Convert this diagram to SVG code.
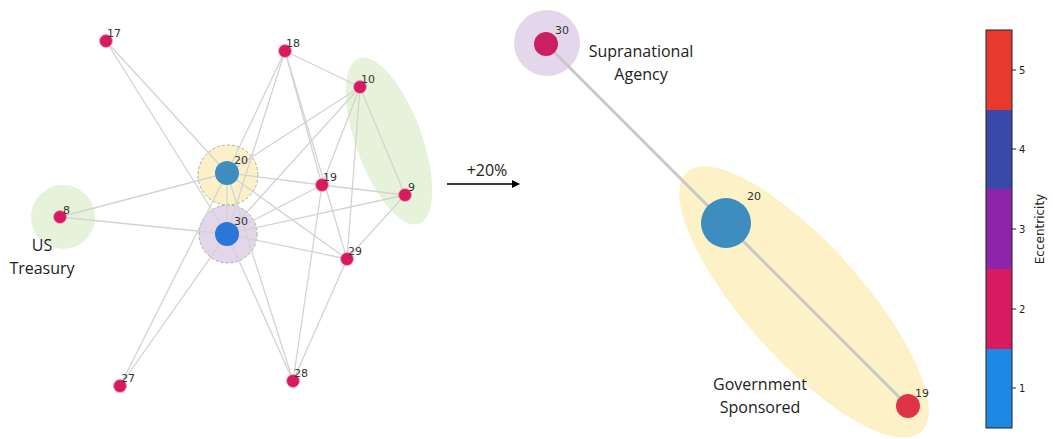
<svg xmlns="http://www.w3.org/2000/svg" width="1053" height="439" viewBox="0 0 1053 439">
<style>
.e{stroke:#d3d3d3;stroke-width:1.3;fill:none}
.n{fill:#d81b60;stroke:#f2a0bd;stroke-width:0.8}
.lb{font-family:"DejaVu Sans",sans-serif;font-size:11px;fill:#333}
.t{font-family:"Open Sans","Liberation Sans",sans-serif;font-size:16px;fill:#222;text-anchor:middle}
.tk{font-family:"DejaVu Sans",sans-serif;font-size:10px;fill:#222}
</style>
<defs>
<marker id="ah" markerWidth="8" markerHeight="8" refX="7" refY="4" orient="auto" markerUnits="userSpaceOnUse">
<path d="M0,0 L8,4 L0,8 Z" fill="#000"/>
</marker>
</defs>
<rect width="1053" height="439" fill="#fff"/>
<g id="groups">
<ellipse cx="389" cy="141" rx="33" ry="88" transform="rotate(-20 389 141)" fill="#e6f3da"/>
<circle cx="63" cy="217" r="32" fill="#e6f3da"/>
<circle cx="228" cy="175" r="30" fill="#fcf0c8" stroke="#aaa" stroke-dasharray="3,2"/>
<circle cx="228" cy="234" r="29" fill="#e3d6ea" stroke="#aaa" stroke-dasharray="3,2"/>
<circle cx="547" cy="43" r="33" fill="#e4d7ec"/>
<ellipse cx="804" cy="302" rx="175" ry="58" transform="rotate(48 804 302)" fill="#fdf1c8"/>
</g>
<g id="connectors">
<line class="e" x1="106" y1="41" x2="227" y2="173"/>
<line class="e" x1="106" y1="41" x2="227" y2="234"/>
<line class="e" x1="285" y1="51" x2="227" y2="173"/>
<line class="e" x1="285" y1="51" x2="227" y2="234"/>
<line class="e" x1="285" y1="51" x2="360" y2="87"/>
<line class="e" x1="285" y1="51" x2="322" y2="185"/>
<line class="e" x1="285" y1="51" x2="347" y2="259"/>
<line class="e" x1="360" y1="87" x2="227" y2="173"/>
<line class="e" x1="360" y1="87" x2="227" y2="234"/>
<line class="e" x1="360" y1="87" x2="322" y2="185"/>
<line class="e" x1="360" y1="87" x2="347" y2="259"/>
<line class="e" x1="360" y1="87" x2="405" y2="195"/>
<line class="e" x1="405" y1="195" x2="322" y2="185"/>
<line class="e" x1="405" y1="195" x2="227" y2="234"/>
<line class="e" x1="405" y1="195" x2="347" y2="259"/>
<line class="e" x1="60" y1="217" x2="227" y2="173"/>
<line class="e" x1="60" y1="217" x2="227" y2="234"/>
<line class="e" x1="322" y1="185" x2="227" y2="173"/>
<line class="e" x1="322" y1="185" x2="227" y2="234"/>
<line class="e" x1="322" y1="185" x2="293" y2="381"/>
<line class="e" x1="347" y1="259" x2="227" y2="173"/>
<line class="e" x1="347" y1="259" x2="227" y2="234"/>
<line class="e" x1="347" y1="259" x2="293" y2="381"/>
<line class="e" x1="120" y1="386" x2="227" y2="173"/>
<line class="e" x1="120" y1="386" x2="227" y2="234"/>
<line class="e" x1="293" y1="381" x2="227" y2="173"/>
<line class="e" x1="293" y1="381" x2="227" y2="234"/>
<line class="e" x1="227" y1="173" x2="227" y2="234"/>
<line x1="546" y1="44" x2="908" y2="406" stroke="#c8c8c8" stroke-width="3"/>
<line x1="447" y1="184" x2="519" y2="184" stroke="#000" stroke-width="1.6" marker-end="url(#ah)"/>
</g>
<g id="n17"><circle class="n" cx="106" cy="41" r="6.5"/><text class="lb" x="107" y="37">17</text></g>
<g id="n18"><circle class="n" cx="285" cy="51" r="6.5"/><text class="lb" x="286" y="47">18</text></g>
<g id="n10"><circle class="n" cx="360" cy="87" r="6.5"/><text class="lb" x="361" y="83">10</text></g>
<g id="n19"><circle class="n" cx="322" cy="185" r="6.5"/><text class="lb" x="323" y="181">19</text></g>
<g id="n9"><circle class="n" cx="405" cy="195" r="6.5"/><text class="lb" x="408" y="191">9</text></g>
<g id="n8"><circle class="n" cx="60" cy="217" r="6.5"/><text class="lb" x="63" y="214">8</text></g>
<g id="n29"><circle class="n" cx="347" cy="259" r="6.5"/><text class="lb" x="348" y="255">29</text></g>
<g id="n27"><circle class="n" cx="120" cy="386" r="6.5"/><text class="lb" x="121" y="382">27</text></g>
<g id="n28"><circle class="n" cx="293" cy="381" r="6.5"/><text class="lb" x="294" y="377">28</text></g>
<g id="n20"><circle cx="227" cy="173" r="12" fill="#3d8ebf"/><text class="lb" x="234" y="164">20</text></g>
<g id="n30"><circle cx="227" cy="234" r="12" fill="#2a77d9"/><text class="lb" x="234" y="225">30</text></g>
<g id="r30"><circle cx="546" cy="44" r="12" fill="#cc1f63"/><text class="lb" x="555" y="34">30</text></g>
<g id="r20"><circle cx="726" cy="223" r="25" fill="#3d8ebf"/><text class="lb" x="747" y="200">20</text></g>
<g id="r19"><circle cx="908" cy="406" r="12" fill="#e0334a"/><text class="lb" x="915" y="397">19</text></g>
<g id="labels">
<text class="t" x="42" y="251">US</text>
<text class="t" x="42" y="274">Treasury</text>
<text class="t" x="641" y="57">Supranational</text>
<text class="t" x="641" y="80">Agency</text>
<text class="t" x="760" y="390">Government</text>
<text class="t" x="760" y="413">Sponsored</text>
<text class="t" x="487" y="176">+20%</text>
</g>
<g id="colorbar">
<rect x="986" y="30" width="26" height="80" fill="#e8392e"/>
<rect x="986" y="110" width="26" height="79" fill="#3949a8"/>
<rect x="986" y="189" width="26" height="80" fill="#8e24aa"/>
<rect x="986" y="269" width="26" height="80" fill="#d81b60"/>
<rect x="986" y="349" width="26" height="79" fill="#1e88e5"/>
<rect x="986" y="30" width="26" height="398" fill="none" stroke="#222" stroke-width="1"/>
<g stroke="#222" stroke-width="1">
<line x1="1012" y1="70" x2="1016" y2="70"/>
<line x1="1012" y1="149" x2="1016" y2="149"/>
<line x1="1012" y1="229" x2="1016" y2="229"/>
<line x1="1012" y1="309" x2="1016" y2="309"/>
<line x1="1012" y1="388" x2="1016" y2="388"/>
</g>
<text class="tk" x="1019" y="74">5</text>
<text class="tk" x="1019" y="153">4</text>
<text class="tk" x="1019" y="233">3</text>
<text class="tk" x="1019" y="313">2</text>
<text class="tk" x="1019" y="392">1</text>
<text class="tk" x="1044" y="229" transform="rotate(-90 1044 229)" text-anchor="middle" style="font-size:12px">Eccentricity</text>
</g>
</svg>
